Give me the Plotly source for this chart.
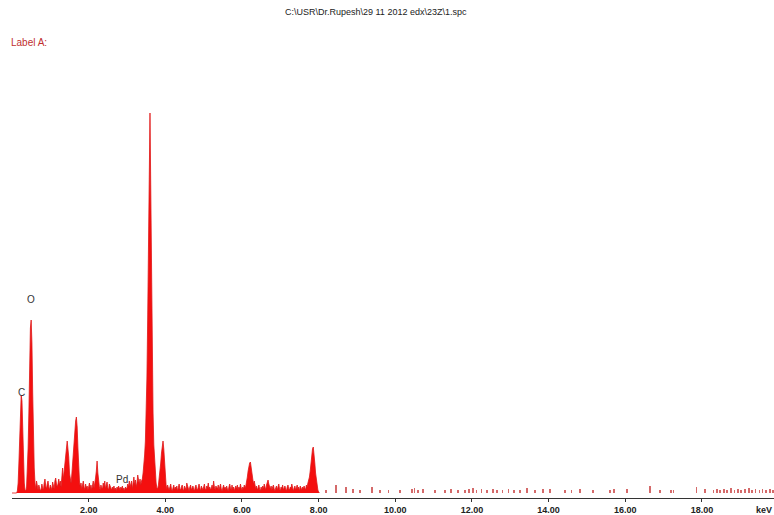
import plotly.graph_objects as go

# EDS spectrum: channel calibration
START_KEV = 0.0
CH_KEV = 0.02

# counts per channel, 0.00 - 8.02 keV (10 channels per row = 0.2 keV)
counts = [
    0, 0, 0, 0, 0, 0, 0, 2, 10, 30,             # 0.00
    55, 85, 98, 92, 60, 30, 10, 3, 2, 6,        # 0.20
    20, 45, 80, 130, 165, 173, 150, 100, 55, 25,  # 0.40
    10, 4, 12, 6, 3, 8, 5, 2, 4, 9,             # 0.60
    5, 3, 10, 14, 7, 4, 9, 12, 6, 3,            # 0.80
    8, 5, 3, 11, 7, 4, 12, 15, 9, 6,            # 1.00
    9, 14, 8, 12, 6, 18, 25, 14, 22, 30,        # 1.20
    40, 48, 52, 44, 36, 20, 14, 10, 18, 30,     # 1.40
    40, 55, 65, 72, 76, 66, 45, 25, 12, 6,      # 1.60
    10, 4, 8, 12, 6, 3, 9, 5, 7, 3,             # 1.80
    6, 10, 4, 8, 3, 7, 12, 5, 9, 15,            # 2.00
    22, 32, 20, 10, 6, 3, 8, 5, 4, 10,          # 2.20
    6, 12, 4, 8, 11, 5, 3, 9, 7, 4,             # 2.40
    3, 6, 4, 7, 3, 5, 2, 6, 4, 7,               # 2.60
    5, 3, 6, 4, 7, 3, 5, 2, 6, 4,               # 2.80
    5, 9, 6, 12, 6, 9, 12, 4, 10, 16,           # 3.00
    8, 13, 6, 10, 18, 12, 9, 14, 8, 12,         # 3.20
    14, 20, 28, 38, 52, 75, 115, 175, 255, 325,  # 3.40
    380, 305, 210, 130, 80, 48, 30, 18, 10, 5,  # 3.60
    4, 8, 14, 20, 30, 40, 48, 52, 44, 32,       # 3.80
    16, 8, 4, 8, 5, 3, 6, 9, 4, 2,              # 4.00
    5, 8, 3, 6, 4, 7, 2, 5, 9, 4,               # 4.20
    3, 6, 8, 4, 2, 7, 5, 3, 10, 6,              # 4.40
    4, 2, 6, 8, 3, 5, 7, 4, 2, 6,               # 4.60
    8, 4, 3, 6, 9, 5, 2, 7, 4, 3,               # 4.80
    6, 9, 4, 3, 7, 5, 10, 4, 6, 3,              # 5.00
    5, 8, 4, 12, 6, 3, 7, 5, 4, 8,              # 5.20
    3, 6, 9, 4, 2, 5, 8, 4, 6, 3,               # 5.40
    7, 4, 2, 6, 9, 5, 3, 8, 4, 6,               # 5.60
    2, 5, 7, 4, 8, 3, 6, 4, 9, 5,               # 5.80
    3, 6, 4, 8, 5, 7, 10, 16, 22, 27,           # 6.00
    30, 31, 26, 20, 14, 9, 12, 6, 4, 7,         # 6.20
    3, 5, 8, 4, 2, 6, 3, 7, 4, 9,               # 6.40
    5, 3, 8, 10, 13, 9, 6, 4, 7, 3,             # 6.60
    6, 8, 4, 2, 5, 7, 3, 6, 9, 4,               # 6.80
    2, 6, 4, 8, 3, 5, 7, 4, 2, 6,               # 7.00
    8, 4, 3, 6, 5, 9, 4, 2, 5, 7,               # 7.20
    3, 5, 8, 4, 6, 2, 7, 5, 3, 6,               # 7.40
    4, 7, 5, 3, 8, 6, 10, 12, 16, 22,           # 7.60
    30, 38, 44, 46, 40, 30, 20, 12, 6, 3,       # 7.80
    1, 0,                                       # 8.00
]

# isolated counts above 8 keV
sparse_kev = [8.20, 8.46, 8.71, 8.90, 9.08, 9.39, 9.60, 9.82, 10.13, 10.43,
              10.50, 10.60, 10.73, 11.04, 11.30, 11.45, 11.64, 11.82, 11.92, 12.02,
              12.12, 12.25, 12.40, 12.55, 12.66, 12.80, 12.95, 13.10, 13.26, 13.43,
              13.65, 13.86, 14.03, 14.43, 14.60, 14.82, 15.16, 15.60, 15.70, 16.04,
              16.65, 16.90, 17.20, 17.26, 17.86, 18.08, 18.30, 18.40, 18.48, 18.58,
              18.66, 18.75, 18.85, 18.94, 19.02, 19.12, 19.22, 19.30, 19.40, 19.50,
              19.58, 19.68, 19.78, 19.85]
sparse_counts = [3, 8, 6, 4, 3, 6, 3, 3, 3, 4,
                 5, 3, 4, 3, 3, 4, 3, 3, 4, 5,
                 3, 4, 3, 4, 3, 3, 4, 3, 3, 5,
                 3, 4, 4, 3, 3, 4, 3, 3, 4, 4,
                 7, 3, 3, 3, 6, 4, 3, 4, 3, 4,
                 3, 5, 3, 4, 3, 4, 5, 3, 4, 3,
                 4, 3, 4, 3]

# element markers: (label, keV, counts)
element_labels = ["C", "O", "Pd"]
element_kev = [0.25, 0.50, 2.88]
element_cts = [101, 194, 14]

tick_vals = [2, 4, 6, 8, 10, 12, 14, 16, 18]
tick_text = ["2.00", "4.00", "6.00", "8.00", "10.00", "12.00", "14.00", "16.00", "18.00"]

energies = [START_KEV + i * CH_KEV for i in range(len(counts))]

FONT = "Liberation Sans, Arial"

fig = go.Figure()
fig.add_trace(go.Scatter(
    x=energies, y=counts, mode="lines", fill="tozeroy",
    line=dict(color="#e01818", width=0.8), fillcolor="#f40f0f",
    hoverinfo="skip", showlegend=False,
))
fig.add_trace(go.Bar(
    x=sparse_kev, y=sparse_counts, width=0.018,
    marker=dict(color="#d46a6a", line=dict(width=0)),
    hoverinfo="skip", showlegend=False,
))

for lab, e, c in zip(element_labels, element_kev, element_cts):
    fig.add_annotation(x=e, y=c, text=lab, showarrow=False, xanchor="center",
                       yanchor="middle",
                       font=dict(family=FONT, size=10, color="#333333"))

fig.add_annotation(xref="paper", yref="paper", x=1.0, y=0.0, yshift=-12,
                   text="<b>keV</b>", showarrow=False, xanchor="right", yanchor="middle",
                   font=dict(family=FONT, size=9, color="#222222"))

fig.add_annotation(xref="paper", yref="paper", x=0.478, y=1.0, yshift=-5,
                   text="C:\\USR\\Dr.Rupesh\\29 11 2012 edx\\23Z\\1.spc",
                   showarrow=False, xanchor="center", yanchor="top",
                   font=dict(family=FONT, size=9, color="#222222"))
fig.add_annotation(xref="paper", yref="paper", x=0.0, xshift=-3, y=1.0, yshift=-35,
                   text="Label A:", showarrow=False, xanchor="left", yanchor="top",
                   font=dict(family=FONT, size=10, color="#c03030"))

fig.update_layout(
    width=774, height=515,
    margin=dict(l=12, r=0, t=0, b=17),
    paper_bgcolor="white", plot_bgcolor="white",
    bargap=0,
    xaxis=dict(
        range=[0, 19.88], showgrid=False, zeroline=False,
        showline=True, linecolor="#333333", linewidth=1,
        ticks="outside", ticklen=3, tickcolor="#333333",
        tickvals=tick_vals, ticktext=tick_text,
        tickfont=dict(family=FONT, size=9, color="#222222", weight="bold"),
        automargin=False, fixedrange=True,
    ),
    yaxis=dict(
        range=[-5, 493], visible=False, fixedrange=True,
    ),
)

fig.write_html("out.html")
